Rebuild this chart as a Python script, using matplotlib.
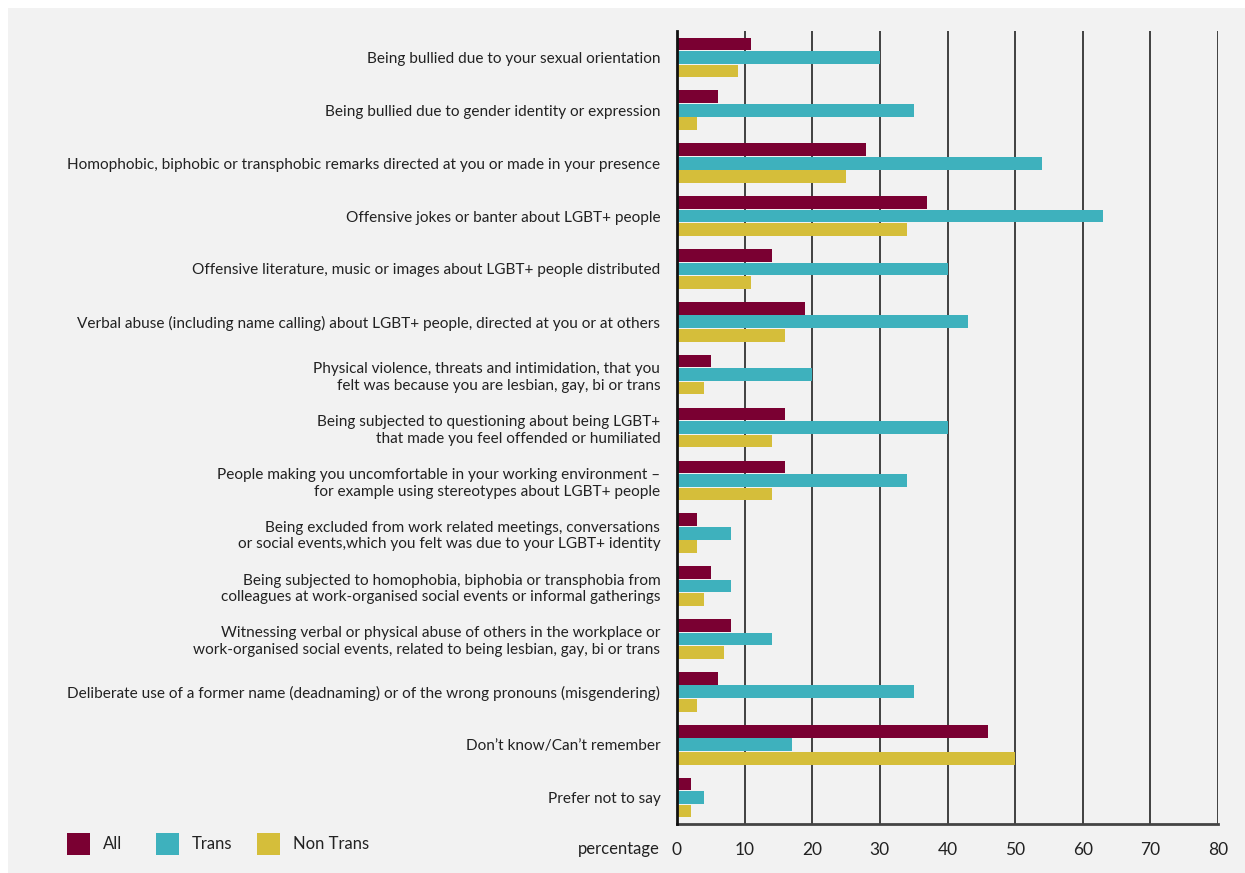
import matplotlib.pyplot as plt
import matplotlib as mpl
import numpy as np

categories = [
    "Being bullied due to your sexual orientation",
    "Being bullied due to gender identity or expression",
    "Homophobic, biphobic or transphobic remarks directed at you or made in your presence",
    "Offensive jokes or banter about LGBT+ people",
    "Offensive literature, music or images about LGBT+ people distributed",
    "Verbal abuse (including name calling) about LGBT+ people, directed at you or at others",
    "Physical violence, threats and intimidation, that you\nfelt was because you are lesbian, gay, bi or trans",
    "Being subjected to questioning about being LGBT+\nthat made you feel offended or humiliated",
    "People making you uncomfortable in your working environment \u2013\nfor example using stereotypes about LGBT+ people",
    "Being excluded from work related meetings, conversations\nor social events,which you felt was due to your LGBT+ identity",
    "Being subjected to homophobia, biphobia or transphobia from\ncolleagues at work-organised social events or informal gatherings",
    "Witnessing verbal or physical abuse of others in the workplace or\nwork-organised social events, related to being lesbian, gay, bi or trans",
    "Deliberate use of a former name (deadnaming) or of the wrong pronouns (misgendering)",
    "Don\u2019t know/Can\u2019t remember",
    "Prefer not to say",
]
all_vals = [11, 6, 28, 37, 14, 19, 5, 16, 16, 3, 5, 8, 6, 46, 2]
trans_vals = [30, 35, 54, 63, 40, 43, 20, 40, 34, 8, 8, 14, 35, 17, 4]
nontrans_vals = [9, 3, 25, 34, 11, 16, 4, 14, 14, 3, 4, 7, 3, 50, 2]
series_names = ["All", "Trans", "Non Trans"]
colors = ["#7a0032", "#3eb1bd", "#d5be3a"]
x_ticks = [0, 10, 20, 30, 40, 50, 60, 70, 80]

mpl.rcParams['font.family'] = ['Lato', 'DejaVu Sans']
mpl.rcParams['font.size'] = 12
text_col = '#222222'
bg = '#f2f2f2'

fig = plt.figure(figsize=(12.45, 8.73), dpi=100)
fig.patch.set_facecolor('white')
# grey panel, white strip only top and left
panel = mpl.patches.Rectangle((8/1245, 0), 1, 1 - 8/873, transform=fig.transFigure,
                              facecolor=bg, edgecolor='none', zorder=-10)
fig.add_artist(panel)

ax = fig.add_axes([677/1245, 49/873, 541/1245, 793/873])
ax.set_facecolor(bg)

y = np.arange(len(categories))
h = 0.24
off = 0.255
for i, (vals, c) in enumerate(zip([all_vals, trans_vals, nontrans_vals], colors)):
    ax.barh(y + (i - 1) * off, vals, height=h, color=c, zorder=3, label=series_names[i])

ax.set_xlim(0, 80)
ax.set_ylim(len(categories) - 0.5, -0.5)
ax.set_xticks(x_ticks)
ax.xaxis.grid(True, color='#333333', linewidth=1.3, zorder=1)
ax.set_axisbelow(True)
ax.set_yticks(y)
ax.set_yticklabels(categories, linespacing=1.25)
ax.tick_params(axis='y', length=0, pad=12, labelsize=11.1, labelcolor=text_col)
ax.tick_params(axis='x', length=0, pad=13, labelsize=12.5, labelcolor=text_col)
for lab in ax.get_yticklabels():
    lab.set_horizontalalignment('right')
    lab.set_multialignment('right')

for s in ['top', 'right']:
    ax.spines[s].set_visible(False)
ax.spines['left'].set_color('#111111')
ax.spines['left'].set_linewidth(2)
ax.spines['bottom'].set_color('#444444')
ax.spines['bottom'].set_linewidth(2)
ax.spines['left'].set_zorder(4)

ax.text(-0.031, -0.031, "percentage", transform=ax.transAxes, ha='right', va='center',
        fontsize=12, color=text_col)

# legend
leg_x = [67, 156, 257]
for lx, name, c in zip(leg_x, series_names, colors):
    fig.add_artist(mpl.patches.Rectangle((lx/1245, (873-855)/873), 23/1245, 22/873,
                                         transform=fig.transFigure, facecolor=c,
                                         edgecolor='none', zorder=2))
    fig.text((lx + 36)/1245, (873-844)/873, name, ha='left', va='center', fontsize=12, color=text_col)

fig.savefig('out.png', dpi=100, facecolor=fig.get_facecolor())
